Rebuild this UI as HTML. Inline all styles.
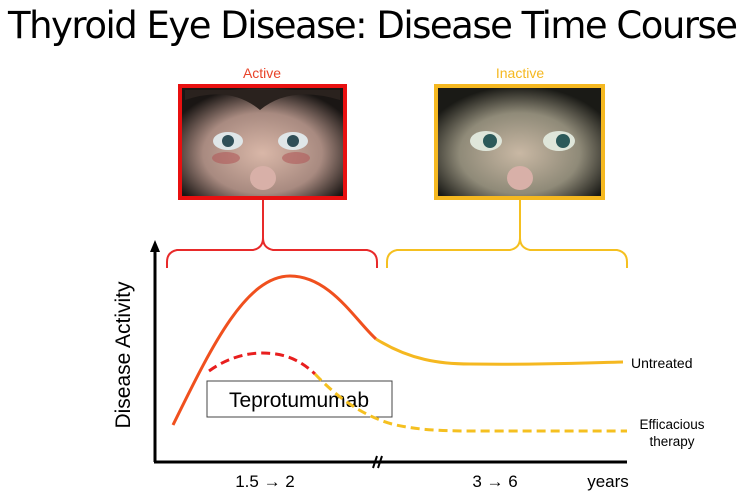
<!DOCTYPE html>
<html><head><meta charset="utf-8"><style>
body{margin:0;width:746px;height:499px;background:#fff;overflow:hidden;font-family:"Liberation Sans",sans-serif}
</style></head><body>
<svg width="746" height="499" viewBox="0 0 746 499" xmlns="http://www.w3.org/2000/svg">
<defs>
<radialGradient id="f1" cx="50%" cy="60%" r="60%"><stop offset="0" stop-color="#d9b7a8"/><stop offset="0.6" stop-color="#a88a80"/><stop offset="1" stop-color="#1a1614"/></radialGradient>
<radialGradient id="f2" cx="50%" cy="60%" r="60%"><stop offset="0" stop-color="#c9b8a4"/><stop offset="0.6" stop-color="#8f8a78"/><stop offset="1" stop-color="#1a1a16"/></radialGradient>
</defs>
<text x="373" y="38" font-size="37" text-anchor="middle" font-family="DejaVu Sans, sans-serif" textLength="730">Thyroid Eye Disease: Disease Time Course</text>
<text x="262" y="78" font-size="14" fill="#e8442a" text-anchor="middle">Active</text>
<text x="520" y="78" font-size="14" fill="#f5b820" text-anchor="middle">Inactive</text>
<rect x="180" y="86" width="165" height="112" fill="url(#f1)" stroke="#e81010" stroke-width="4"/>
<g fill="#dfe6e8"><ellipse cx="228" cy="141" rx="15" ry="9"/><ellipse cx="293" cy="141" rx="15" ry="9"/></g>
<g fill="#2f4f58"><circle cx="228" cy="141" r="6"/><circle cx="293" cy="141" r="6"/></g>
<g fill="#b05a5a" opacity="0.6"><ellipse cx="226" cy="158" rx="14" ry="6"/><ellipse cx="296" cy="158" rx="14" ry="6"/></g>
<ellipse cx="263" cy="178" rx="13" ry="12" fill="#d8b0a8"/>
<path d="M185 100 Q230 85 260 110 Q290 85 340 100 L340 90 L185 90Z" fill="#2a221e"/>
<rect x="436" y="86" width="167" height="112" fill="url(#f2)" stroke="#f5b820" stroke-width="4"/>
<g fill="#dfe6da"><ellipse cx="486" cy="141" rx="16" ry="10"/><ellipse cx="559" cy="141" rx="16" ry="10"/></g>
<g fill="#2c5a5a"><circle cx="490" cy="141" r="7"/><circle cx="563" cy="141" r="7"/></g>
<ellipse cx="520" cy="178" rx="13" ry="12" fill="#d8b0a8"/>
<path d="M263 200 V238 Q263 248 253 250 H177 Q167 252 167 262 V268 M263 238 Q263 248 273 250 H367 Q377 252 377 262 V268" fill="none" stroke="#e82a2a" stroke-width="2"/>
<path d="M520 200 V238 Q520 248 510 250 H397 Q387 252 387 262 V268 M520 238 Q520 248 530 250 H617 Q627 252 627 262 V268" fill="none" stroke="#f5c020" stroke-width="2"/>
<path d="M155 462 V248" stroke="#000" stroke-width="3"/>
<path d="M150 252 L155 240 L160 252Z" fill="#000"/>
<path d="M154 462 H627" stroke="#000" stroke-width="3"/>
<path d="M373 468 L377 456 M378 468 L382 456" stroke="#000" stroke-width="2"/>
<text transform="translate(130 355) rotate(-90)" font-size="21" text-anchor="middle">Disease Activity</text>
<path d="M173 425 C210 350 245 276 290 276 C330 276 355 320 376 339" fill="none" stroke="#f0501e" stroke-width="3"/>
<path d="M376 339 C410 360 440 364 470 364 C540 365 580 363 623 362" fill="none" stroke="#f5b820" stroke-width="3"/>
<path d="M209 371 C230 356 250 353 262 353 C285 353 300 360 315 374" fill="none" stroke="#e81e1e" stroke-width="3" stroke-dasharray="9 5"/>
<rect x="207" y="381" width="185" height="36" fill="#fff" stroke="#444" stroke-width="1"/>
<text x="299" y="407" font-size="21" text-anchor="middle">Teprotumumab</text>
<path d="M315 374 C335 395 360 415 392 424 C420 431 450 431 480 431 C560 431 600 431 627 431" fill="none" stroke="#f5c020" stroke-width="3" stroke-dasharray="9 5"/>
<text x="631" y="368" font-size="14">Untreated</text>
<text x="672" y="429" font-size="13.5" text-anchor="middle">Efficacious</text>
<text x="672" y="446" font-size="13.5" text-anchor="middle">therapy</text>
<text x="265" y="487" font-size="17" text-anchor="middle">1.5 → 2</text>
<text x="495" y="487" font-size="17" text-anchor="middle">3 → 6</text>
<text x="608" y="487" font-size="17" text-anchor="middle">years</text>
</svg>
</body></html>
